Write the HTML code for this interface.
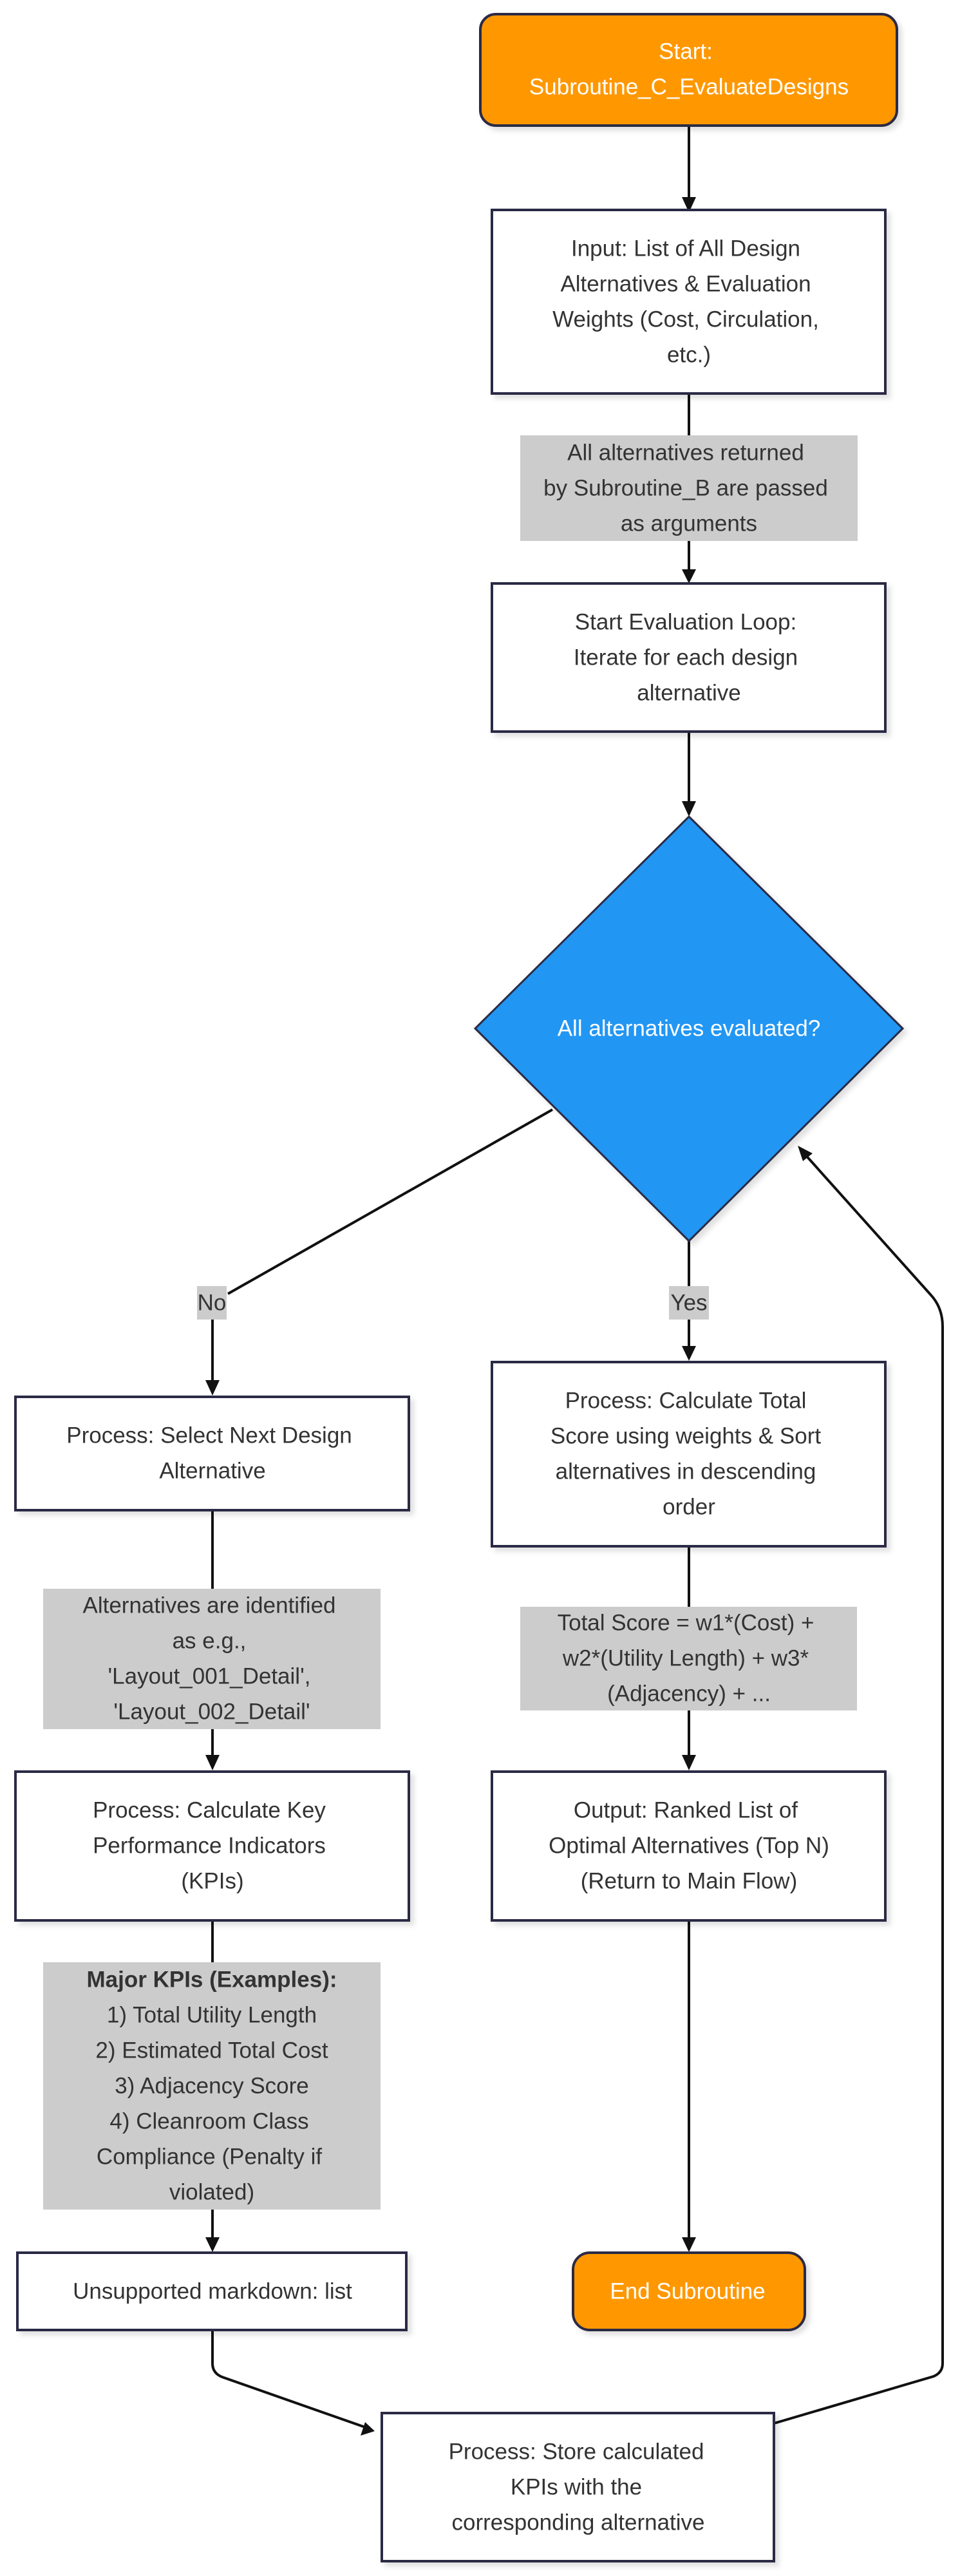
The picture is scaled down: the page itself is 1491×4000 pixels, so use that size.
<!DOCTYPE html>
<html><head><meta charset="utf-8">
<style>
html,body{margin:0;padding:0;background:#fff;}
svg{display:block;}
text{font-family:"Liberation Sans",sans-serif;font-size:35px;fill:#333;text-anchor:middle;dominant-baseline:central;}
.w{fill:#fff;}
.box{fill:#fff;stroke:#2b2b45;stroke-width:4;}
.lbl{fill:#cccccc;}
.ln{fill:none;stroke:#111;stroke-width:4;}
</style></head>
<body>
<svg width="1491" height="4000" viewBox="0 0 1491 4000" xmlns="http://www.w3.org/2000/svg">
<defs>
<filter id="sh" x="-10%" y="-10%" width="130%" height="130%"><feDropShadow dx="6" dy="6" stdDeviation="4" flood-color="#000" flood-opacity="0.12"/></filter>
</defs>
<g class="ln">
<line x1="1070" y1="195" x2="1070" y2="310"/>
<line x1="1070" y1="611" x2="1070" y2="676"/>
<line x1="1070" y1="840" x2="1070" y2="890"/>
<line x1="1070" y1="1136" x2="1070" y2="1250"/>
<line x1="858" y1="1723" x2="354" y2="2009"/>
<line x1="330" y1="2049" x2="330" y2="2150"/>
<line x1="1070" y1="1927" x2="1070" y2="1997"/>
<line x1="1070" y1="2049" x2="1070" y2="2095"/>
<line x1="330" y1="2345" x2="330" y2="2467"/>
<line x1="330" y1="2685" x2="330" y2="2730"/>
<line x1="1070" y1="2401" x2="1070" y2="2495"/>
<line x1="1070" y1="2656" x2="1070" y2="2730"/>
<line x1="330" y1="2982" x2="330" y2="3047"/>
<line x1="330" y1="3431" x2="330" y2="3478"/>
<line x1="1070" y1="2982" x2="1070" y2="3478"/>
<path d="M330,3618 L330,3670 Q330,3685 345,3691 L570,3770"/>
<path d="M1202,3763 L1450,3690 Q1464,3684 1464,3670 L1464,2060 Q1464,2030 1445,2010 L1248,1790"/>
</g>
<g fill="#111">
<path d="M1059,306 L1081,306 L1070,330 z"/>
<path d="M1059,884 L1081,884 L1070,906 z"/>
<path d="M1059,1244 L1081,1244 L1070,1268 z"/>
<path d="M319,2143 L341,2143 L330,2167 z"/>
<path d="M1059,2090 L1081,2090 L1070,2113 z"/>
<path d="M319,2725 L341,2725 L330,2749 z"/>
<path d="M1059,2725 L1081,2725 L1070,2749 z"/>
<path d="M319,3474 L341,3474 L330,3497 z"/>
<path d="M1059,3474 L1081,3474 L1070,3497 z"/>
<path d="M582,3775 L560,3782 L567,3761 z"/>
<path d="M1239,1779 L1262,1791 L1247,1803 z"/>
</g>
<g filter="url(#sh)">
<rect x="746" y="22" width="647" height="173" rx="24" fill="#ff9800" stroke="#2b2b45" stroke-width="4"/>
<rect class="box" x="764" y="326" width="611" height="285"/>
<rect class="box" x="764" y="906" width="611" height="230"/>
<path d="M1070,1268 L1402,1597 L1070,1927 L738,1597 z" fill="#2196f3" stroke="#2b2b45" stroke-width="3"/>
<rect class="box" x="24" y="2169" width="611" height="176"/>
<rect class="box" x="764" y="2115" width="611" height="286"/>
<rect class="box" x="24" y="2751" width="611" height="231"/>
<rect class="box" x="764" y="2751" width="611" height="231"/>
<rect class="box" x="27" y="3498" width="604" height="120"/>
<rect x="890" y="3498" width="360" height="120" rx="26" fill="#ff9800" stroke="#2b2b45" stroke-width="4"/>
<rect class="box" x="593" y="3747" width="609" height="230"/>
</g>
<rect class="lbl" x="808" y="676" width="524" height="164"/>
<rect class="lbl" x="306" y="1997" width="46" height="52"/>
<rect class="lbl" x="1039" y="1997" width="62" height="52"/>
<rect class="lbl" x="67" y="2467" width="524" height="218"/>
<rect class="lbl" x="808" y="2495" width="523" height="161"/>
<rect class="lbl" x="67" y="3047" width="524" height="384"/>
<text class="w" x="1065" y="80">Start:</text>
<text class="w" x="1070" y="135">Subroutine_C_EvaluateDesigns</text>
<text x="1065" y="386">Input: List of All Design</text>
<text x="1065" y="441">Alternatives &amp; Evaluation</text>
<text x="1065" y="496">Weights (Cost, Circulation,</text>
<text x="1070" y="551">etc.)</text>
<text x="1065" y="703">All alternatives returned</text>
<text x="1065" y="758">by Subroutine_B are passed</text>
<text x="1070" y="813">as arguments</text>
<text x="1065" y="966">Start Evaluation Loop:</text>
<text x="1065" y="1021">Iterate for each design</text>
<text x="1070" y="1076">alternative</text>
<text class="w" x="1070" y="1597">All alternatives evaluated?</text>
<text x="329" y="2023">No</text>
<text x="1070" y="2023">Yes</text>
<text x="325" y="2229">Process: Select Next Design</text>
<text x="330" y="2284">Alternative</text>
<text x="1065" y="2175">Process: Calculate Total</text>
<text x="1065" y="2230">Score using weights &amp; Sort</text>
<text x="1065" y="2285">alternatives in descending</text>
<text x="1070" y="2340">order</text>
<text x="325" y="2493">Alternatives are identified</text>
<text x="325" y="2548">as e.g.,</text>
<text x="325" y="2603">'Layout_001_Detail',</text>
<text x="329" y="2658">'Layout_002_Detail'</text>
<text x="1065" y="2520">Total Score = w1*(Cost) +</text>
<text x="1065" y="2575">w2*(Utility Length) + w3*</text>
<text x="1070" y="2630">(Adjacency) + ...</text>
<text x="325" y="2811">Process: Calculate Key</text>
<text x="325" y="2866">Performance Indicators</text>
<text x="330" y="2921">(KPIs)</text>
<text x="1065" y="2811">Output: Ranked List of</text>
<text x="1070" y="2866">Optimal Alternatives (Top N)</text>
<text x="1070" y="2921">(Return to Main Flow)</text>
<text x="329" y="3074" style="font-weight:bold">Major KPIs (Examples):</text>
<text x="329" y="3129">1) Total Utility Length</text>
<text x="329" y="3184">2) Estimated Total Cost</text>
<text x="329" y="3239">3) Adjacency Score</text>
<text x="325" y="3294">4) Cleanroom Class</text>
<text x="325" y="3349">Compliance (Penalty if</text>
<text x="329" y="3404">violated)</text>
<text x="330" y="3558">Unsupported markdown: list</text>
<text class="w" x="1068" y="3558">End Subroutine</text>
<text x="895" y="3807">Process: Store calculated</text>
<text x="895" y="3862">KPIs with the</text>
<text x="898" y="3917">corresponding alternative</text>
</svg>
</body></html>
